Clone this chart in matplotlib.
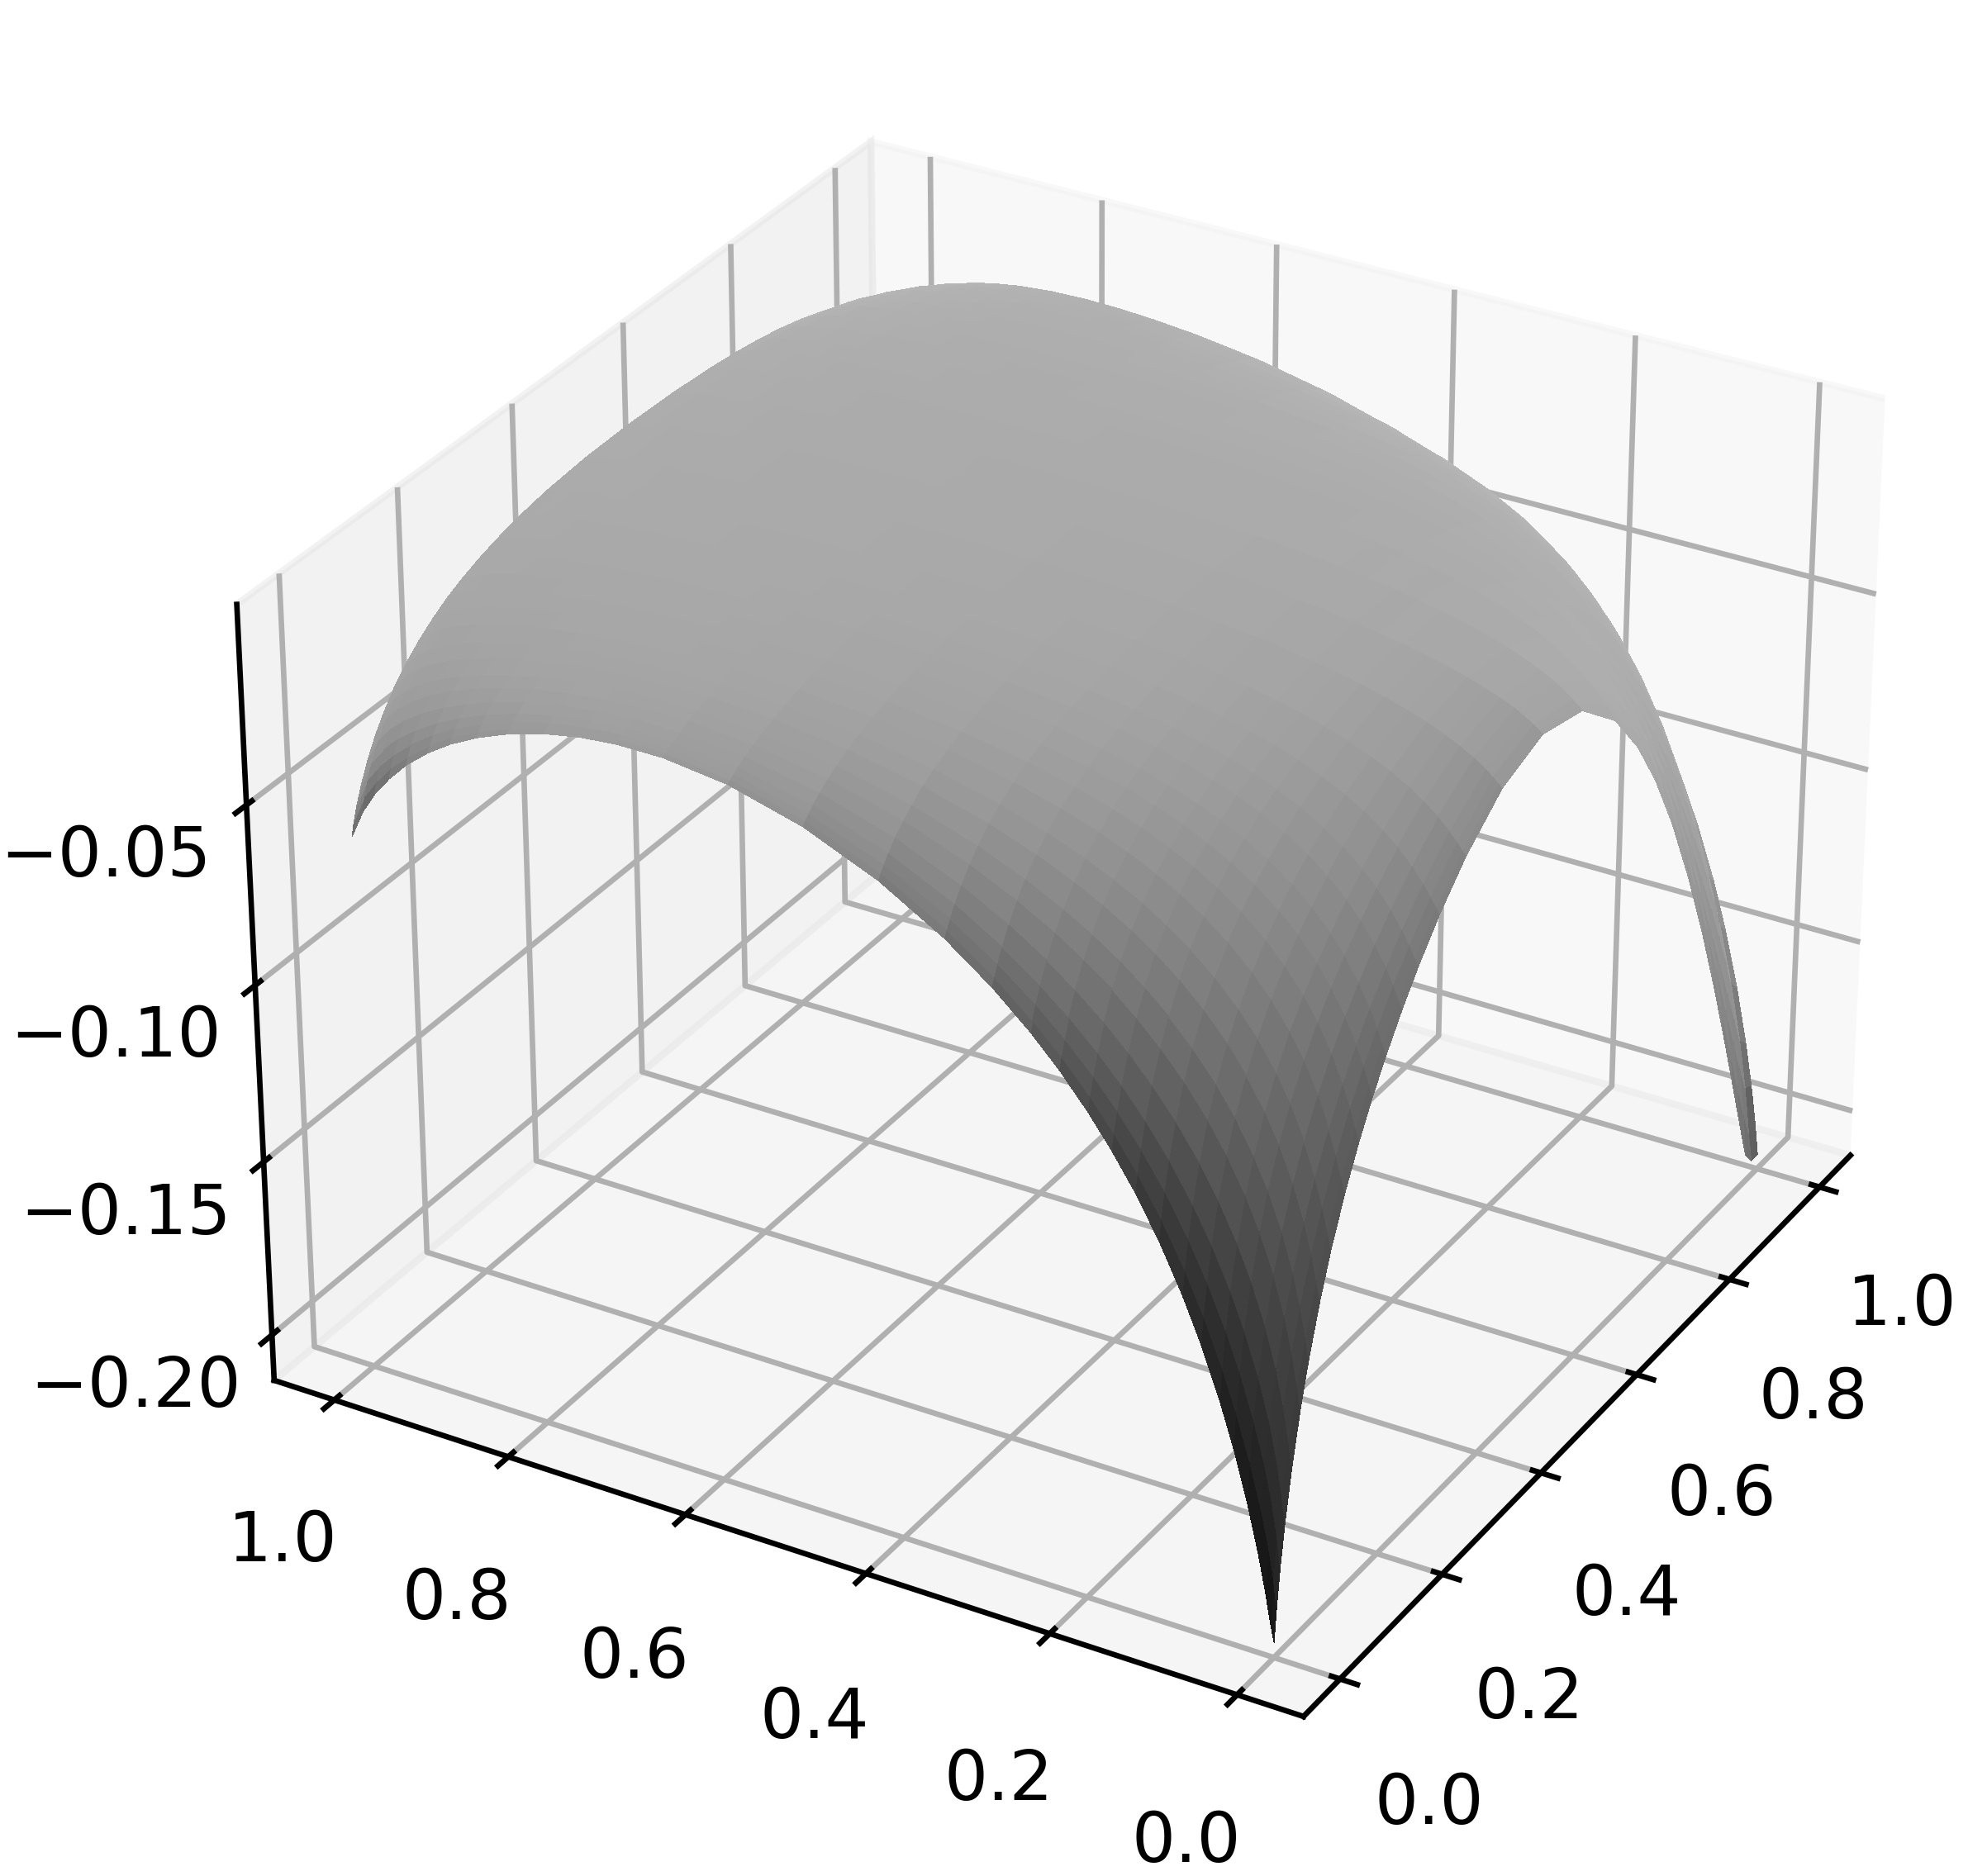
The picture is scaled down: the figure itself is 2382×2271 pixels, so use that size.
import numpy as np, matplotlib
matplotlib.use('Agg')
import matplotlib.pyplot as plt

# grid positions read along the axes (denser at the sharp corners)
x_nodes = [0,.004,.01,.018,.03,.045,.06,.08,.1,.125,.15,.175,.2,.23,.26,.3,.35,.42,.5,.58,.65,.7,.74,.78,.82,.855,.885,.91,.935,.955,.972,.986,1]
y_nodes = list(x_nodes)
x_ticks = [0.0,0.2,0.4,0.6,0.8,1.0]
y_ticks = [0.0,0.2,0.4,0.6,0.8,1.0]
z_ticks = [-0.20,-0.15,-0.10,-0.05]

# depth below zero of the surface, in units of 0.0001, one row per y node
depth = [
[2090,1999,1894,1781,1642,1500,1381,1247,1133,1013,910,820,740,654,577,487,393,296,248,282,395,530,671,844,1048,1250,1441,1611,1788,1933,2054,2090,2090],
[2040,1911,1804,1697,1566,1433,1321,1194,1087,973,874,788,712,630,556,470,379,287,240,273,381,509,644,809,1002,1194,1374,1532,1696,1828,1936,2013,2001],
[1952,1823,1710,1601,1473,1345,1239,1121,1021,914,822,742,671,594,525,445,360,273,229,260,361,481,607,760,940,1118,1284,1430,1581,1702,1803,1880,1891],
[1850,1730,1615,1504,1377,1254,1153,1041,947,848,763,689,623,552,489,415,337,257,217,245,338,447,563,703,868,1031,1183,1316,1455,1568,1665,1746,1770],
[1719,1611,1500,1391,1266,1147,1050,945,858,767,689,622,563,499,443,377,307,236,200,225,307,404,506,631,776,921,1056,1176,1302,1407,1501,1585,1618],
[1579,1484,1380,1276,1156,1042,950,851,770,686,615,555,501,445,395,337,276,215,183,204,275,359,448,555,682,809,928,1035,1149,1247,1337,1421,1460],
[1458,1374,1278,1179,1065,956,869,775,699,620,555,500,451,400,356,304,250,196,169,187,248,321,399,493,604,716,822,919,1023,1115,1202,1285,1327],
[1319,1246,1160,1069,963,861,779,692,621,549,490,439,396,351,312,267,221,175,152,167,218,280,344,424,519,615,707,792,886,971,1053,1132,1178],
[1199,1135,1058,975,876,781,704,623,557,490,436,390,351,310,276,236,197,157,137,150,193,245,300,368,449,532,613,689,775,853,930,1005,1053],
[1069,1015,947,873,784,696,626,551,491,430,380,339,304,269,238,205,171,138,122,132,167,210,255,311,379,449,519,586,662,732,804,873,923],
[958,911,852,785,705,625,560,491,436,380,335,297,266,234,208,178,150,122,108,117,146,181,218,265,323,383,444,503,571,635,701,765,815],
[862,821,768,709,636,563,504,440,389,338,296,263,234,206,182,156,131,108,97,104,128,157,189,228,278,330,384,436,497,556,616,675,725],
[777,741,694,641,575,508,454,396,349,302,264,233,207,182,160,138,116,96,86,92,112,137,164,198,241,287,334,381,436,490,545,600,648],
[687,656,616,569,511,452,403,350,308,265,231,203,180,157,139,119,100,83,75,80,97,118,140,169,206,245,286,328,377,426,475,525,571],
[609,583,547,507,455,402,358,311,273,234,203,178,157,137,121,103,87,72,66,70,84,102,121,146,177,212,249,285,330,373,418,463,506],
[519,497,468,434,390,345,307,266,233,199,173,151,133,115,101,86,72,61,55,59,71,85,101,122,148,178,209,241,280,318,357,396,435],
[425,408,385,357,322,285,254,220,193,165,142,124,109,94,82,70,59,49,45,48,58,70,83,100,122,147,173,200,233,265,299,331,366],
[321,309,292,272,246,219,196,170,149,128,110,96,84,72,63,53,45,37,35,38,45,55,65,79,97,117,139,161,187,213,239,265,293],
[235,226,215,201,183,164,148,129,114,98,85,74,65,56,49,42,35,29,27,30,37,45,53,65,80,96,114,131,152,172,193,212,234],
[180,174,166,157,144,130,118,104,93,80,70,62,55,47,41,35,30,25,24,26,32,39,47,57,69,83,98,112,129,145,161,175,192],
[158,153,147,139,128,116,106,94,84,74,65,57,51,44,39,33,28,24,23,26,31,38,45,54,65,77,90,102,116,129,142,154,167],
[158,153,146,138,127,116,106,94,84,74,65,58,51,45,40,34,29,25,24,27,32,38,45,53,64,75,87,98,111,122,133,143,155],
[167,162,154,146,134,121,111,99,88,77,68,60,54,47,42,36,31,27,26,28,34,40,46,54,64,75,86,97,109,119,129,139,149],
[186,180,171,160,147,133,121,107,96,84,74,66,58,51,45,39,34,30,28,31,36,42,49,57,67,77,88,98,109,119,129,137,147],
[215,207,196,183,167,150,136,121,108,94,83,73,65,57,51,44,38,34,32,35,40,46,53,61,71,81,91,101,112,122,132,140,150],
[250,240,227,211,191,171,155,137,122,106,93,83,74,65,57,50,44,38,37,40,45,51,58,66,76,87,97,107,119,129,138,148,158],
[289,277,260,241,218,194,175,154,137,119,105,93,83,73,65,57,49,44,42,45,51,57,64,72,83,93,104,115,127,138,148,158,170],
[330,315,295,272,245,218,196,173,153,133,117,104,92,81,73,63,55,49,47,50,56,63,70,79,90,101,113,124,136,148,159,170,184],
[381,362,337,310,278,247,222,195,173,151,132,117,104,92,82,72,63,56,54,57,63,70,78,87,99,111,123,136,150,163,175,188,204],
[433,408,378,347,311,277,249,218,194,168,148,131,116,103,91,80,70,62,60,63,70,78,86,96,108,121,135,148,164,178,192,207,225],
[487,457,422,387,347,309,278,244,216,187,164,145,129,114,101,88,77,68,66,69,77,85,93,104,118,132,147,162,179,196,212,228,250],
[544,507,469,431,388,345,310,272,240,208,182,160,142,125,111,97,84,74,71,75,83,92,101,113,128,144,161,177,197,216,234,252,277],
[624,590,551,509,456,403,360,312,274,236,205,179,159,139,123,106,92,81,78,82,91,101,112,126,144,164,185,207,233,258,283,307,337],
]

x = np.array(x_nodes); y = np.array(y_nodes)
X, Y = np.meshgrid(x, y)
Z = -1e-4 * np.array(depth, dtype=float)

# hill shading of each face from its slope, light from +x/+y at low altitude
zx = (np.diff(Z, axis=1)[:-1, :] + np.diff(Z, axis=1)[1:, :]) / 2 / np.diff(x)
zy = (np.diff(Z, axis=0)[:, :-1] + np.diff(Z, axis=0)[:, 1:]) / 2 / np.diff(y)[:, None]
light = (.85, .42, .333)
shade = (-light[0]*zx - light[1]*zy + light[2]) / np.sqrt(zx**2 + zy**2 + 1)
gray = (shade + 1) / 2

fig = plt.figure(figsize=(2382/600, 2271/600), dpi=600)
ax = fig.add_axes([0.069, 0.0234, 2218/2382, 2218/2271], projection='3d')
ax.plot_surface(X, Y, Z, facecolors=plt.cm.gray(gray), rstride=1, cstride=1,
                linewidth=0, antialiased=False, shade=False)
ax.view_init(30, -150)
ax.set_xlim(-0.07, 1.07); ax.set_ylim(-0.07, 1.07); ax.set_zlim(-.2133, 0.0044)
ax.set_xticks(x_ticks); ax.set_yticks(y_ticks); ax.set_zticks(z_ticks)
fig.savefig('out.png', dpi=600)
